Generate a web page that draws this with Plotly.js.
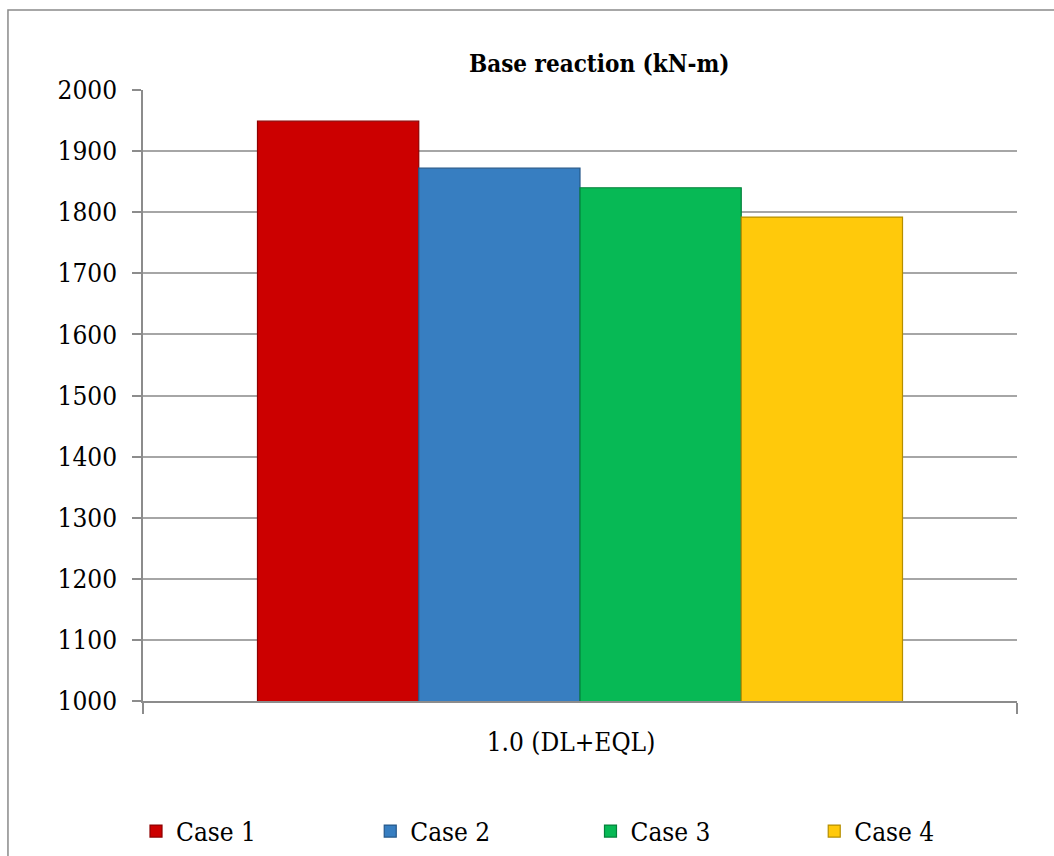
<!DOCTYPE html>
<html>
<head>
<meta charset="utf-8">
<script src="https://cdn.plot.ly/plotly-3.0.1.min.js"></script>
<style>
  html, body { margin: 0; padding: 0; background: #ffffff; }
  #chart { width: 1054px; height: 856px; }
</style>
</head>
<body>
<div id="chart"></div>
<script>
// ---- data ----
const categories = ["1.0 (DL+EQL)"];
const seriesNames = ["Case 1", "Case 2", "Case 3", "Case 4"];
const case1 = [1949];
const case2 = [1872];
const case3 = [1840];
const case4 = [1792];
const yTicks = [1000, 1100, 1200, 1300, 1400, 1500, 1600, 1700, 1800, 1900, 2000];

// ---- styles ----
const fills = ["#CC0000", "#377EC1", "#07B955", "#FFC90B"];
const edges = ["#8E0000", "#25588A", "#04813B", "#B58E00"];
const seriesValues = [case1, case2, case3, case4];
const legendIds = ["legend", "legend2", "legend3", "legend4"];
const legendX = [-0.008, 0.260, 0.512, 0.768];

const font = "DejaVu Serif Condensed, DejaVu Serif";

const traces = seriesNames.map((name, i) => ({
  type: "bar",
  name: name,
  x: categories,
  y: seriesValues[i],
  legend: legendIds[i],
  marker: { color: fills[i], line: { color: edges[i], width: 1.2 } },
  hoverinfo: "name+y"
}));

const layout = {
  width: 1054,
  height: 856,
  paper_bgcolor: "#ffffff",
  plot_bgcolor: "#ffffff",
  margin: { l: 143, r: 37, t: 90, b: 155, autoexpand: false },
  barmode: "group",
  bargap: 0.262,
  bargroupgap: 0,
  font: { family: font, color: "#000000", size: 26 },
  title: {
    text: "<b>Base reaction (kN-m)</b>",
    font: { family: font, size: 24, color: "#000000" },
    x: 0.522, xref: "paper", xanchor: "center",
    y: 0.926, yref: "container", yanchor: "middle"
  },
  xaxis: {
    type: "category",
    showline: true,
    linecolor: "#8c8c8c",
    linewidth: 1.5,
    ticks: "outside",
    tickson: "boundaries",
    ticklen: 11,
    tickcolor: "#8c8c8c",
    tickwidth: 1.5,
    ticklabelstandoff: 17,
    ticklabelshift: -9,
    tickfont: { family: font, size: 26, color: "#000000" },
    showgrid: false,
    zeroline: false
  },
  yaxis: {
    range: [1000, 2000],
    tickvals: yTicks,
    ticktext: yTicks.map(String),
    showline: true,
    linecolor: "#8c8c8c",
    linewidth: 1.5,
    ticks: "outside",
    ticklen: 9,
    tickcolor: "#8c8c8c",
    tickwidth: 1.5,
    ticklabelstandoff: 10,
    tickfont: { family: font, size: 26, color: "#000000" },
    showgrid: true,
    gridcolor: "#a6a6a6",
    gridwidth: 1.5,
    zeroline: false
  },
  showlegend: true,
  shapes: [
    {
      type: "path",
      xref: "paper", yref: "paper",
      path: "M -0.1545,-0.3 L -0.1545,1.131 L 1.1,1.131",
      line: { color: "#8a8a8a", width: 1.5 },
      layer: "below"
    }
  ]
};

legendIds.forEach((id, i) => {
  layout[id] = {
    orientation: "h",
    x: legendX[i], xanchor: "left",
    y: -0.213, yanchor: "middle",
    xref: "paper", yref: "paper",
    font: { family: font, size: 26, color: "#000000" },
    itemwidth: 30,
    bgcolor: "rgba(0,0,0,0)"
  };
});

Plotly.newPlot("chart", traces, layout, { displayModeBar: false, responsive: false });
</script>
</body>
</html>
